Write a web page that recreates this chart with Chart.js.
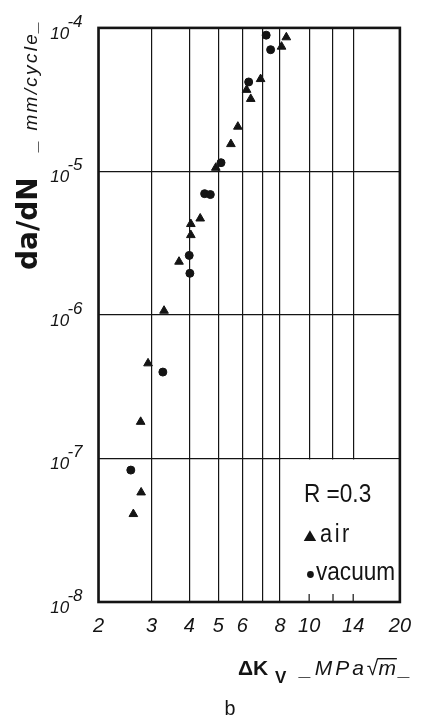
<!DOCTYPE html>
<html>
<head>
<meta charset="utf-8">
<script src="https://cdn.jsdelivr.net/npm/chart.js@4.4.0/dist/chart.umd.min.js"></script>
<style>
  html, body { margin: 0; padding: 0; background: #fff; }
  canvas { display: block; }
</style>
</head>
<body>
<canvas id="chart" width="423" height="724"></canvas>
<script>
// crack growth rate vs stress intensity range, R = 0.3
const airK = [8.4, 8.1, 6.9, 6.2, 6.4, 5.8, 5.5, 4.9, 4.35, 4.05, 4.05, 3.7, 3.3, 2.92, 2.76, 2.77, 2.61];
const airRate = [8.6e-5, 7.4e-5, 4.4e-5, 3.7e-5, 3.2e-5, 2.05e-5, 1.55e-5, 1.06e-5, 4.7e-6, 4.3e-6, 3.6e-6, 2.35e-6, 1.07e-6, 4.6e-7, 1.8e-7, 5.8e-8, 4.1e-8];
const vacuumK = [7.2, 7.45, 6.3, 5.1, 4.5, 4.7, 4.0, 4.02, 3.27, 2.56];
const vacuumRate = [8.9e-5, 7.05e-5, 4.2e-5, 1.15e-5, 7.0e-6, 6.9e-6, 2.6e-6, 1.95e-6, 4.0e-7, 8.3e-8];

const kGrid = [2, 3, 4, 5, 6, 7, 8, 10, 12, 14, 20];
const kLabels = [2, 3, 4, 5, 6, 8, 10, 14, 20];
const rateGrid = [1e-8, 1e-7, 1e-6, 1e-5, 1e-4];
const boxTicks = [10, 12, 14];

const ink = "#141414";
const toPoints = (xs, ys) => xs.map((x, i) => ({ x, y: ys[i] }));

function spaced(ctx, text, x, y, gap) {
  for (const ch of text) {
    ctx.fillText(ch, x, y);
    x += ctx.measureText(ch).width + gap;
  }
  return x;
}

const paperPlugin = {
  id: "paper",
  beforeDatasetsDraw(chart) {
    const { ctx, chartArea: a, scales } = chart;
    const x8 = scales.x.getPixelForValue(8);
    const y7 = scales.y.getPixelForValue(1e-7);
    ctx.save();
    // blank the grid behind the legend box
    ctx.fillStyle = "#fff";
    ctx.fillRect(x8 + 1, y7 + 1, a.right - x8 - 1, a.bottom - y7 - 1);
    ctx.strokeStyle = ink;
    ctx.lineWidth = 1.2;
    boxTicks.forEach((v) => {
      const px = scales.x.getPixelForValue(v);
      ctx.beginPath();
      ctx.moveTo(px, a.bottom);
      ctx.lineTo(px, a.bottom - 8);
      ctx.stroke();
    });
    ctx.restore();
  },
  afterDraw(chart) {
    const { ctx, chartArea: a, scales } = chart;
    const x8 = scales.x.getPixelForValue(8);
    const y7 = scales.y.getPixelForValue(1e-7);
    ctx.save();
    ctx.strokeStyle = ink;
    ctx.fillStyle = ink;
    ctx.lineWidth = 2.6;
    ctx.strokeRect(a.left, a.top, a.right - a.left, a.bottom - a.top);

    // legend box
    ctx.textBaseline = "alphabetic";
    ctx.textAlign = "left";
    ctx.font = '26px "Liberation Sans"';
    ctx.save();
    ctx.translate(x8 + 24, y7 + 44);
    ctx.scale(0.87, 1);
    ctx.fillText("R =0.3", 0, 0);
    ctx.restore();

    Chart.helpers.drawPoint(ctx, { pointStyle: "triangle", radius: 4.6, borderWidth: 1 }, x8 + 30, y7 + 79);
    ctx.fill();
    ctx.save();
    ctx.translate(x8 + 40, y7 + 84);
    ctx.scale(0.87, 1);
    ctx.font = '25px "Liberation Sans"';
    spaced(ctx, "air", 0, 0, 3);
    ctx.restore();

    ctx.beginPath();
    ctx.arc(x8 + 30.5, y7 + 116, 3.4, 0, Math.PI * 2);
    ctx.fill();
    ctx.save();
    ctx.translate(x8 + 36, y7 + 122);
    ctx.scale(0.87, 1);
    ctx.fillText("vacuum", 0, 0);
    ctx.restore();

    // y axis title
    ctx.save();
    ctx.translate(37, 270);
    ctx.rotate(-Math.PI / 2);
    ctx.font = 'bold 28px "DejaVu Sans"';
    ctx.fillText("da/dN", 0, 0);
    ctx.restore();
    ctx.save();
    ctx.translate(37, 151);
    ctx.rotate(-Math.PI / 2);
    ctx.font = 'italic 19px "Liberation Sans"';
    spaced(ctx, "_ mm/cycle_", 0, 0, 2.3);
    ctx.restore();

    // x axis title
    ctx.font = 'bold 21px "Liberation Sans"';
    ctx.fillText("\u0394K", 238, 675);
    ctx.font = 'bold 17px "Liberation Sans"';
    ctx.fillText("V", 275, 683);
    ctx.font = 'italic 21px "Liberation Sans"';
    let cx = spaced(ctx, "_MPa", 300, 675, 3);
    ctx.font = '21px "Liberation Sans"';
    const rootW = ctx.measureText("\u221A").width;
    const rootTop = 675 - ctx.measureText("\u221A").actualBoundingBoxAscent;
    const rootStart = cx;
    cx = spaced(ctx, "\u221A", cx, 675, 0);
    ctx.font = 'italic 21px "Liberation Sans"';
    const mEnd = cx + ctx.measureText("m").width;
    cx = spaced(ctx, "m", cx, 675, 3);
    spaced(ctx, "_", cx, 675, 0);
    ctx.lineWidth = 1.4;
    ctx.beginPath();
    ctx.moveTo(rootStart + rootW - 1, rootTop + 0.7);
    ctx.lineTo(mEnd + 1, rootTop + 0.7);
    ctx.stroke();

    ctx.font = '20px "Liberation Mono"';
    ctx.textAlign = "center";
    ctx.fillText("b", 230, 715);
    ctx.restore();
  },
};

new Chart(document.getElementById("chart"), {
  type: "scatter",
  data: {
    datasets: [
      {
        label: "air",
        data: toPoints(airK, airRate),
        pointStyle: "triangle",
        pointRadius: 5,
        backgroundColor: ink,
        borderColor: ink,
        borderWidth: 1,
      },
      {
        label: "vacuum",
        data: toPoints(vacuumK, vacuumRate),
        pointStyle: "circle",
        pointRadius: 4,
        backgroundColor: ink,
        borderColor: ink,
        borderWidth: 1,
      },
    ],
  },
  options: {
    responsive: false,
    animation: false,
    events: [],
    layout: { padding: { top: 25, right: 23, left: 0, bottom: 0 } },
    plugins: { legend: { display: false }, tooltip: { enabled: false } },
    scales: {
      x: {
        type: "logarithmic",
        min: 2,
        max: 20,
        afterBuildTicks: (s) => {
          s.ticks = kGrid.map((v) => ({ value: v }));
        },
        afterFit: (s) => {
          s.height = 122;
        },
        grid: { color: ink, lineWidth: 1.2, drawTicks: false },
        border: { display: false },
        ticks: {
          autoSkip: false,
          maxRotation: 0,
          padding: 12,
          color: ink,
          font: { family: "Liberation Sans", style: "italic", size: 20 },
          callback: (v) => (kLabels.includes(v) ? String(v) : ""),
        },
      },
      y: {
        type: "logarithmic",
        min: 1e-8,
        max: 1e-4,
        afterBuildTicks: (s) => {
          s.ticks = rateGrid.map((v) => ({ value: v }));
        },
        afterFit: (s) => {
          s.width = 98.5;
        },
        grid: { color: ink, lineWidth: 1.2, drawTicks: false },
        border: { display: false },
        ticks: {
          padding: 16,
          color: ink,
          font: { family: "Liberation Sans", style: "italic", size: 17, lineHeight: 0.7 },
          callback: (v) => ["-" + Math.round(-Math.log10(v)), "10\u2002 "],
        },
      },
    },
  },
  plugins: [paperPlugin],
});
</script>
</body>
</html>
